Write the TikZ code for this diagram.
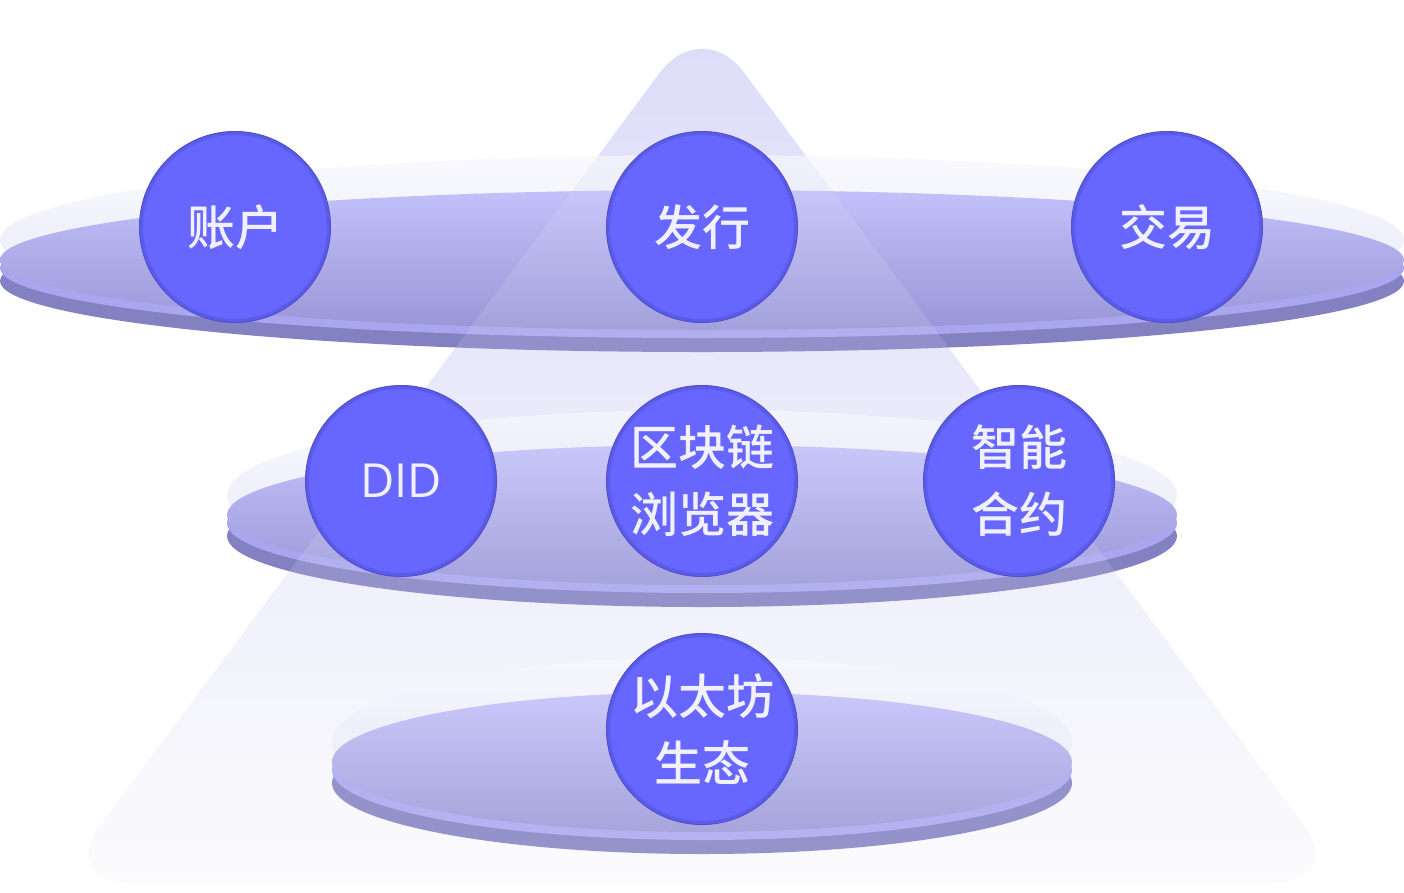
\documentclass[tikz,border=0pt]{standalone}
\usepackage{fontspec}
\newfontfamily\cjk{Noto Sans CJK SC Medium}
\newfontfamily\lat{Open Sans}

\definecolor{conoAlto}{HTML}{DCDCF9}
\definecolor{conoBasso}{HTML}{FBFBFD}
\definecolor{alonaAlto}{HTML}{F8F8FE}
\definecolor{alonaBasso}{HTML}{E3E3F6}
\definecolor{facciaAlto}{HTML}{C3C1FA}
\definecolor{facciaBasso}{HTML}{9896D6}
\definecolor{fascia}{HTML}{A8A6EE}
\definecolor{bordo}{HTML}{8381C2}
\definecolor{palla}{HTML}{6767FF}
\definecolor{pallaOmbra}{HTML}{5B5BEA}
\definecolor{pallaBordo}{HTML}{5250CC}
\definecolor{testo}{HTML}{F0F0FF}

\tikzset{
  cono/.style={top color=conoAlto, bottom color=conoBasso, rounded corners=70pt},
  palla/.style={circle, minimum size=191pt, inner sep=0pt, fill=palla,
    draw=pallaBordo, line width=1pt, text=testo, align=center,
    font=\cjk\fontsize{48}{67}\selectfont,
    path picture={\draw[pallaOmbra, line width=7pt]
      (path picture bounding box.center) circle (95.5pt);}}
}

\begin{document}
\begin{tikzpicture}[x=1pt, y=-1pt]
    \useasboundingbox (0,0) rectangle (1404,892);

    % Cono
    \shade[cono] (702,16) -- (1346,882) -- (58,882) -- cycle;

    % Dischi
    \foreach \cy/\rx in {260/702, 515/475, 762/370} {
      \shade[top color=alonaAlto, bottom color=alonaBasso, opacity=0.85]
        (702,\cy-20) ellipse [x radius=\rx pt, y radius=85pt];
      \fill[bordo] (702,\cy+21) ellipse [x radius=\rx pt, y radius=71pt];
      \fill[fascia] (702,\cy+8) ellipse [x radius=\rx pt, y radius=70pt];
      \shade[top color=facciaAlto, bottom color=facciaBasso]
        (702,\cy) ellipse [x radius=\rx pt, y radius=70pt];
    }

    % Cono sopra i dischi
    \shade[cono, opacity=0.15] (702,16) -- (1346,882) -- (58,882) -- cycle;

    % Nodi
    \node[palla] (conto) at (235,227) {账户};
    \node[palla] (emissione) at (702,227) {发行};
    \node[palla] (scambio) at (1167,227) {交易};
    \node[palla, font=\lat\fontsize{47}{60}\selectfont] (did) at (401,481) {DID};
    \node[palla] (explorer) at (702,481) {区块链\\浏览器};
    \node[palla] (contratti) at (1019,481) {智能\\合约};
    \node[palla] (ethereum) at (702,729) {以太坊\\生态};
\end{tikzpicture}
\end{document}
